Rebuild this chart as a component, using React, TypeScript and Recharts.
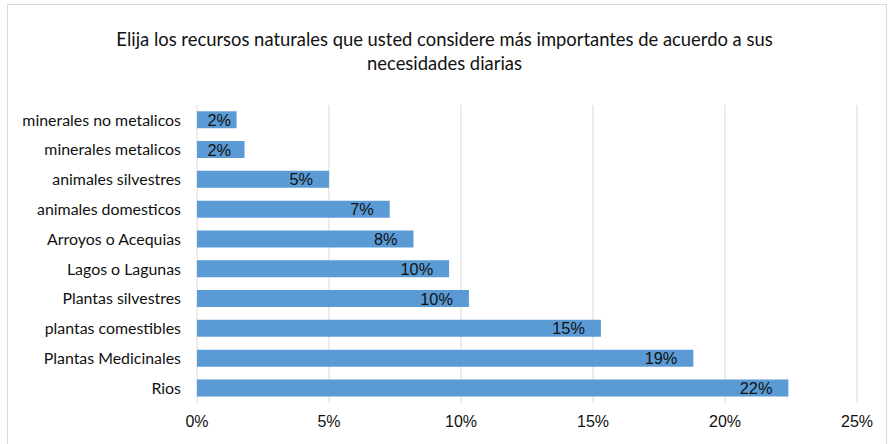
import React from "react";
import { BarChart, Bar, XAxis, YAxis, CartesianGrid, LabelList } from "recharts";

const categories = [
  "minerales no metalicos",
  "minerales metalicos",
  "animales silvestres",
  "animales domesticos",
  "Arroyos o Acequias",
  "Lagos o Lagunas",
  "Plantas silvestres",
  "plantas comestibles",
  "Plantas Medicinales",
  "Rios",
];
const percents = [1.5, 1.8, 5.0, 7.3, 8.2, 9.55, 10.3, 15.3, 18.8, 22.4];
const xTicks = [0, 5, 10, 15, 20, 25];

const data = categories.map((name, i) => ({ name, value: percents[i] }));

const TITLE_FONT = "Lato, 'Open Sans', sans-serif";
const ARIAL = "'Liberation Sans', Arial, sans-serif";

function BarLabel(props: any) {
  const { x, y, width, height, value } = props;
  const text = `${Math.round(value)}%`;
  const textW = text.length * 9.5;
  const end = Math.max(x + width - 16, x + 15 + textW);
  return (
    <text
      x={end}
      y={y + height / 2}
      textAnchor="end"
      dominantBaseline="central"
      fontFamily={ARIAL}
      fontSize={16.3}
      fill="#111"
    >
      {text}
    </text>
  );
}

export default function App() {
  return (
    <div
      style={{
        position: "absolute",
        left: 0,
        top: 0,
        width: 889,
        height: 444,
        overflow: "hidden",
        background: "#fff",
      }}
    >
      <div
        style={{
          position: "absolute",
          left: 7,
          top: 4,
          width: 878,
          height: 460,
          border: "1px solid #d9d9d9",
        }}
      />
      <div
        style={{
          position: "absolute",
          left: 0,
          top: 27,
          width: 889,
          textAlign: "center",
          fontFamily: TITLE_FONT,
          fontSize: 18.4,
          lineHeight: "24px",
          color: "#111",
        }}
      >
        Elija los recursos naturales que usted considere más importantes de acuerdo a sus
        <br />
        necesidades diarias
      </div>
      <div style={{ position: "absolute", left: 0, top: 0 }}>
        <BarChart
          width={889}
          height={444}
          data={data}
          layout="vertical"
          margin={{ top: 105, right: 32, bottom: 0, left: 0 }}
          barCategoryGap="21%"
        >
          <CartesianGrid horizontal={false} stroke="#d9d9d9" />
          <XAxis
            type="number"
            domain={[0, 25]}
            ticks={xTicks}
            tickFormatter={(v) => `${v}%`}
            axisLine={false}
            tickLine={false}
            tickSize={0}
            tickMargin={13}
            height={41}
            tick={{ fontFamily: ARIAL, fontSize: 16, fill: "#111" }}
            interval={0}
          />
          <YAxis
            type="category"
            dataKey="name"
            width={197}
            axisLine={false}
            tickLine={false}
            tickSize={0}
            tickMargin={16}
            interval={0}
            tick={{ fontFamily: TITLE_FONT, fontSize: 15.9, fill: "#111" }}
          />
          <Bar dataKey="value" fill="#5b9bd5" isAnimationActive={false}>
            <LabelList dataKey="value" content={<BarLabel />} />
          </Bar>
        </BarChart>
      </div>
    </div>
  );
}
